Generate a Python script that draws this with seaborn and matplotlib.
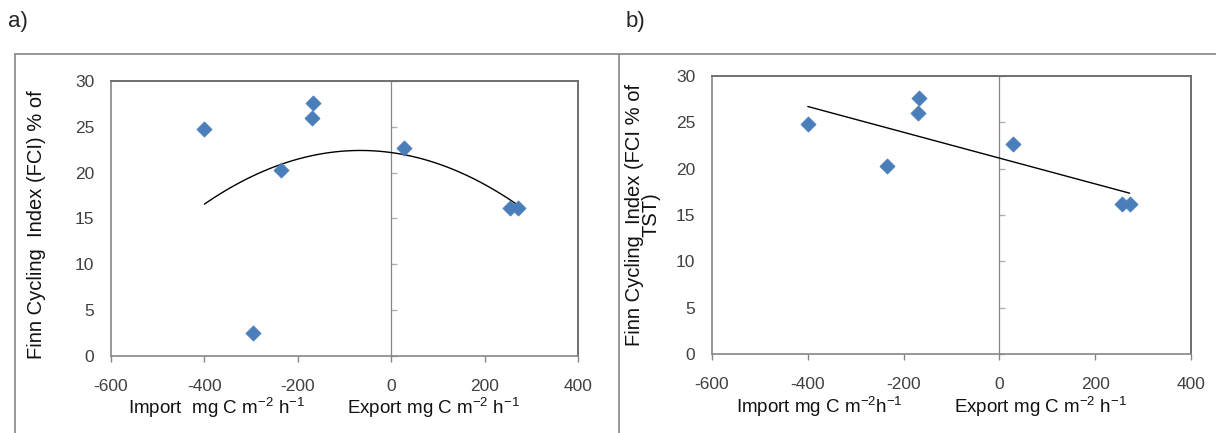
import numpy as np
import pandas as pd
import matplotlib
matplotlib.use("Agg")
import matplotlib.pyplot as plt
from matplotlib.lines import Line2D
import seaborn as sns

# data
flux_a = [-400, -295, -235, -170, -168, 28, 255, 272]
fci_a = [24.8, 2.5, 20.3, 26.0, 27.6, 22.7, 16.2, 16.2]
flux_b = [-400, -235, -170, -168, 28, 255, 272]
fci_b = [24.8, 20.3, 26.0, 27.6, 22.7, 16.2, 16.2]

x_ticks = [-600, -400, -200, 0, 200, 400]
y_ticks = [0, 5, 10, 15, 20, 25, 30]

df_a = pd.DataFrame({"flux": flux_a, "fci": fci_a})
df_b = pd.DataFrame({"flux": flux_b, "fci": fci_b})

sns.set_style("white")
plt.rcParams["font.family"] = ["Liberation Sans", "DejaVu Sans"]
plt.rcParams["axes.unicode_minus"] = False
plt.rcParams["mathtext.fontset"] = "custom"
plt.rcParams["mathtext.rm"] = "Liberation Sans"
plt.rcParams["mathtext.it"] = "Liberation Sans"

W, H = 1216, 433
fig = plt.figure(figsize=(W / 100, H / 100), dpi=100)

def px_axes(x0, y0, x1, y1):
    return fig.add_axes([x0 / W, 1 - y1 / H, (x1 - x0) / W, (y1 - y0) / H])

ax_a = px_axes(111, 81, 578, 356)
ax_b = px_axes(712, 76, 1191, 354)

blue = "#4A7EBB"
grey = "#868686"
dark = "#6f6f6f"

for ax, df, order in [(ax_a, df_a, 2), (ax_b, df_b, 1)]:
    sns.regplot(data=df, x="flux", y="fci", order=order, ci=None, scatter=False,
                truncate=True, ax=ax, line_kws={"color": "black", "lw": 1.0})
    sns.scatterplot(data=df, x="flux", y="fci", marker="D", s=60, color=blue,
                    edgecolor=blue, linewidth=0.5, ax=ax, zorder=3)
    ax.set_xlim(-600, 400)
    ax.set_ylim(0, 30)
    ax.set_xticks(x_ticks)
    ax.set_yticks(y_ticks)
    ax.set_xlabel("")
    ax.set_ylabel("")
    ax.tick_params(axis="x", direction="out", length=4.5, width=1, color=grey,
                   labelsize=12.5, labelcolor="#404040", pad=12, bottom=True)
    ax.tick_params(axis="y", length=0, labelsize=12.5, labelcolor="#404040", pad=12)
    for side in ["left", "bottom"]:
        ax.spines[side].set_color(grey)
        ax.spines[side].set_linewidth(1.2)
    for side in ["right", "top"]:
        ax.spines[side].set_color(dark)
        ax.spines[side].set_linewidth(1.4)
    # vertical value axis drawn through x = 0
    sec = ax.secondary_yaxis(0.6)
    sec.set_yticks(y_ticks)
    sec.set_yticklabels([])
    sec.tick_params(axis="y", direction="out", length=4.5, width=1, color="#b0b0b0")
    for sp in sec.spines.values():
        sp.set_color(grey)
        sp.set_linewidth(0.9)

# axis unit labels
lab_kw = dict(ha="center", va="center", fontsize=13.5, color="#111111")
ax_a.text(0.225, -0.19, r"Import  mg C m$^{-2}$ h$^{-1}$", transform=ax_a.transAxes, **lab_kw)
ax_a.text(0.69, -0.19, r"Export mg C m$^{-2}$ h$^{-1}$", transform=ax_a.transAxes, **lab_kw)
ax_b.text(0.225, -0.19, r"Import mg C m$^{-2}$h$^{-1}$", transform=ax_b.transAxes, **lab_kw)
ax_b.text(0.685, -0.19, r"Export mg C m$^{-2}$ h$^{-1}$", transform=ax_b.transAxes, **lab_kw)

# y axis titles
fig.text(37 / W, 1 - 225 / H, "Finn Cycling  Index (FCI) % of", rotation=90,
         ha="center", va="center", fontsize=14.5, color="#111111")
fig.text(643 / W, 1 - 215 / H, "Finn Cycling  Index (FCI % of\nTST)", rotation=90,
         ha="center", va="center", fontsize=14.5, color="#111111", linespacing=0.85)

# panel letters
fig.text(8 / W, 1 - 22 / H, "a)", ha="left", va="center", fontsize=16)
fig.text(626 / W, 1 - 22 / H, "b)", ha="left", va="center", fontsize=16)

# panel frames
frame_kw = dict(color=grey, lw=1.2, transform=fig.transFigure)
fig.add_artist(Line2D([15 / W, 1], [1 - 54 / H, 1 - 54 / H], **frame_kw))
fig.add_artist(Line2D([15 / W, 15 / W], [0, 1 - 54 / H], **frame_kw))
fig.add_artist(Line2D([619 / W, 619 / W], [0, 1 - 54 / H], **frame_kw))

fig.savefig("out.png", dpi=100)
